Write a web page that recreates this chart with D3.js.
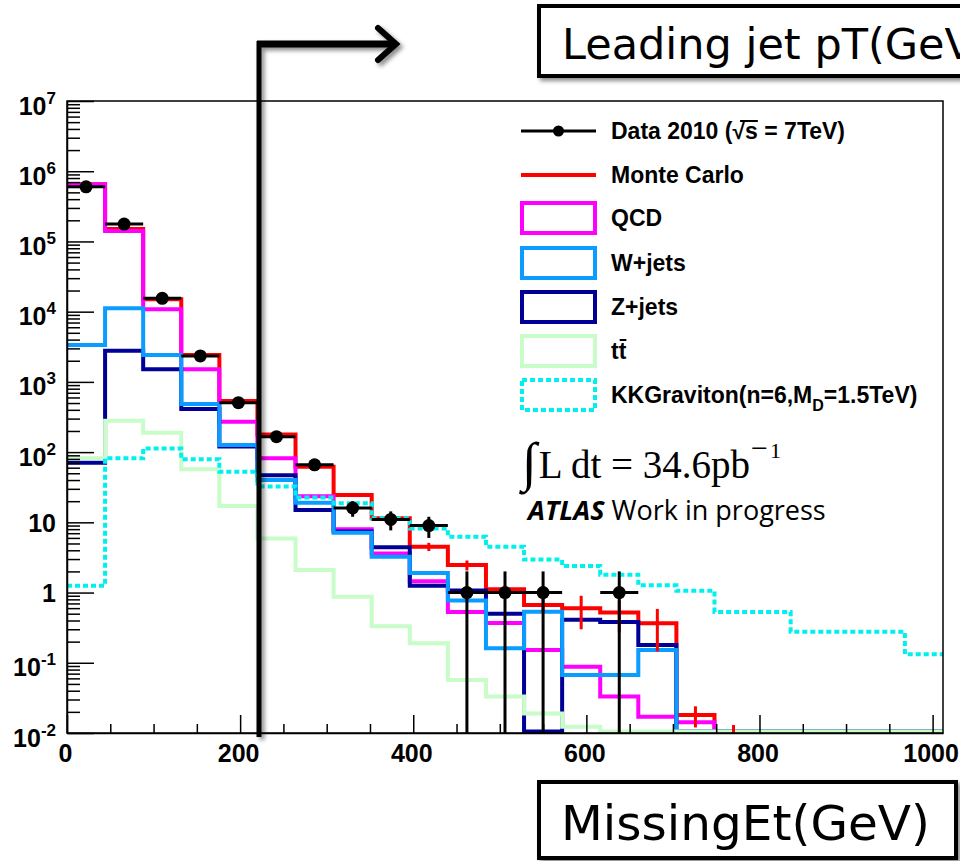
<!DOCTYPE html>
<html>
<head>
<meta charset="utf-8">
<script src="https://cdn.jsdelivr.net/npm/d3@7"></script>
<style>
  body { margin: 0; background: #fff; }
  svg { display: block; }
</style>
</head>
<body>
<svg id="chart" width="960" height="861"></svg>
<script>
// ---- binning (GeV) ----
const binWidth = 44;
const xMax = 1012;

// ---- events per bin, 23 bins of 44 GeV ----
const dataCounts = [600000, 177000, 15500, 2340, 506, 166, 66, 16, 11, 9, 1, 1, 1, 0, 1, 0, 0, 0, 0, 0, 0, 0, 0];
const mcTotal    = [655000, 150000, 15000, 2415, 535, 178, 62, 24.5, 11.4, 4.5, 2.46, 1.11, 0.665, 0.6, 0.52, 0.365, 0.018, 0.005, 0, 0, 0, 0, 0];
const mcError    = [0, 0, 0, 0, 0, 0, 0, 0, 0, 0.6, 0.4, 0.15, 0.15, 0.3, 0.25, 0.22, 0.006, 0.008, 0, 0, 0, 0, 0];
const qcd        = [650000, 141000, 10800, 1510, 271, 81.7, 23.5, 8.0, 3.6, 1.45, 0.53, 0.37, 0.152, 0.088, 0.033, 0.0171, 0.0142, 0, 0, 0, 0, 0, 0];
const wJets      = [3355, 11200, 2415, 484, 126, 40, 19, 7.1, 3.24, 1.9, 0.77, 0.161, 0.535, 0.067, 0.067, 0.152, 0, 0, 0, 0, 0, 0, 0];
const zJets      = [70.6, 2780, 1510, 411, 120, 47, 15, 7.4, 4.41, 1.25, 1.07, 0.5, 0, 0.41, 0.38, 0.179, 0, 0, 0, 0, 0, 0, 0];
const ttbar      = [81.7, 280, 189, 56.9, 17.1, 5.9, 2.1, 0.87, 0.33, 0.19, 0.057, 0.033, 0.019, 0.0123, 0, 0, 0, 0, 0, 0, 0, 0, 0];
const kkGraviton = [1.25, 82, 113, 79, 52.6, 32.5, 22.5, 18.7, 11.4, 8.2, 6.25, 4.5, 2.95, 2.39, 1.8, 1.27, 1.06, 0.53, 0.53, 0.277, 0.277, 0.277, 0.132];

// ---- axis ticks ----
const xTickValues = [0, 200, 400, 600, 800, 1000];
const xTickLabels = ["0", "200", "400", "600", "800", "1000"];
const yTickValues = [1e-2, 1e-1, 1, 10, 1e2, 1e3, 1e4, 1e5, 1e6, 1e7];
const yTickLabels = ["10^-2", "10^-1", "1", "10", "10^2", "10^3", "10^4", "10^5", "10^6", "10^7"];

// ---- legend ----
const legendLabels = ["Data 2010 (√s = 7TeV)", "Monte Carlo", "QCD", "W+jets", "Z+jets", "tt", "KKGraviton(n=6,M|D|=1.5TeV)"];

const colors = {
  data: "#000000", mc: "#ff0000", qcd: "#ff00ff", w: "#0a9cff",
  z: "#000096", tt: "#c8fcc8", kk: "#00f0f0"
};

const svg = d3.select("#chart");
const defs = svg.append("defs");

const frame = { left: 67, right: 943, top: 101, bottom: 733 };
const yMin = 1e-2;

const x = d3.scaleLinear().domain([0, xMax]).range([frame.left, frame.right]);
const y = d3.scaleLog().domain([yMin, 1e7]).range([frame.bottom, frame.top]);
// empty or underflow bins sit on the lower edge of the frame
const yc = v => v > yMin ? y(v) : frame.bottom - 1.5;

defs.append("clipPath").attr("id", "plotClip")
  .append("rect")
  .attr("x", frame.left).attr("y", frame.top)
  .attr("width", frame.right - frame.left).attr("height", frame.bottom - frame.top);

const shadow = defs.append("filter").attr("id", "shadow")
  .attr("x", "-20%").attr("y", "-20%").attr("width", "140%").attr("height", "140%");
shadow.append("feDropShadow")
  .attr("dx", 3).attr("dy", 3).attr("stdDeviation", 2)
  .attr("flood-color", "#000").attr("flood-opacity", 0.45);

// ---- histograms ----
const step = d3.line().curve(d3.curveStepAfter).x(d => x(d[0])).y(d => yc(d[1]));
function histPoints(vals) {
  const pts = vals.map((v, i) => [i * binWidth, v]);
  pts.push([vals.length * binWidth, vals[vals.length - 1]]);
  return pts;
}

const plot = svg.append("g").attr("clip-path", "url(#plotClip)");

const series = [
  { vals: mcTotal, color: colors.mc, dash: null },
  { vals: qcd, color: colors.qcd, dash: null },
  { vals: zJets, color: colors.z, dash: null },
  { vals: wJets, color: colors.w, dash: null },
  { vals: ttbar, color: colors.tt, dash: null },
  { vals: kkGraviton, color: colors.kk, dash: "5,3" }
];

plot.selectAll("path.hist").data(series).join("path")
  .attr("class", "hist")
  .attr("d", d => step(histPoints(d.vals)))
  .attr("fill", "none")
  .attr("stroke", d => d.color)
  .attr("stroke-width", 4)
  .attr("stroke-dasharray", d => d.dash);

// Monte Carlo statistical errors
const mcErrBins = mcTotal.map((v, i) => ({ i, v, e: mcError[i] })).filter(d => d.e > 0);
plot.selectAll("line.mcerr").data(mcErrBins).join("line")
  .attr("class", "mcerr")
  .attr("x1", d => x((d.i + 0.5) * binWidth)).attr("x2", d => x((d.i + 0.5) * binWidth))
  .attr("y1", d => yc(d.v + d.e)).attr("y2", d => (d.v - d.e) > yMin ? y(d.v - d.e) : frame.bottom)
  .attr("stroke", colors.mc).attr("stroke-width", 3);

// ---- data points with Poisson errors ----
const dataPts = dataCounts.map((n, i) => ({ i, n })).filter(d => d.n > 0);
const dataG = plot.append("g");
dataG.selectAll("line.xerr").data(dataPts).join("line")
  .attr("x1", d => x(d.i * binWidth)).attr("x2", d => x((d.i + 1) * binWidth))
  .attr("y1", d => y(d.n)).attr("y2", d => y(d.n))
  .attr("stroke", colors.data).attr("stroke-width", 3);
dataG.selectAll("line.yerr").data(dataPts).join("line")
  .attr("x1", d => x((d.i + 0.5) * binWidth)).attr("x2", d => x((d.i + 0.5) * binWidth))
  .attr("y1", d => yc(d.n + Math.sqrt(d.n)))
  .attr("y2", d => (d.n - Math.sqrt(d.n)) > yMin ? y(d.n - Math.sqrt(d.n)) : frame.bottom)
  .attr("stroke", colors.data).attr("stroke-width", 3);
dataG.selectAll("circle").data(dataPts).join("circle")
  .attr("cx", d => x((d.i + 0.5) * binWidth)).attr("cy", d => y(d.n))
  .attr("r", 6.5).attr("fill", colors.data);

// ---- frame ----
svg.append("rect")
  .attr("x", frame.left).attr("y", frame.top)
  .attr("width", frame.right - frame.left).attr("height", frame.bottom - frame.top)
  .attr("fill", "none").attr("stroke", "#000").attr("stroke-width", 1.5);

// ---- axes ----
const axisFont = "'Liberation Sans', Arial, sans-serif";

const xMinor = d3.range(0, xMax, 50).filter(v => v % 200 !== 0);
svg.append("g").attr("transform", `translate(0,${frame.bottom})`)
  .call(d3.axisBottom(x).tickValues(xMinor).tickSize(-9).tickSizeOuter(0).tickFormat(""))
  .call(g => g.select(".domain").remove())
  .call(g => g.selectAll("line").attr("stroke-width", 1.5));

svg.append("g").attr("transform", `translate(0,${frame.bottom})`)
  .call(d3.axisBottom(x).tickValues(xTickValues).tickSize(-18).tickSizeOuter(0).tickPadding(11)
    .tickFormat((d, i) => xTickLabels[i]))
  .call(g => g.select(".domain").attr("stroke-width", 1.5))
  .call(g => g.selectAll("line").attr("stroke-width", 1.5))
  .call(g => g.selectAll("text")
    .attr("font-family", axisFont).attr("font-size", 25).attr("font-weight", "bold")
    .attr("fill", "#000").attr("dx", -2));

const yMinor = [];
for (let k = -2; k < 7; k++) for (let m = 2; m <= 9; m++) yMinor.push(m * Math.pow(10, k));
svg.append("g").attr("transform", `translate(${frame.left},0)`)
  .call(d3.axisLeft(y).tickValues(yMinor).tickSize(-13).tickSizeOuter(0).tickFormat(""))
  .call(g => g.select(".domain").remove())
  .call(g => g.selectAll("line").attr("stroke-width", 1.5));

const yAxisG = svg.append("g").attr("transform", `translate(${frame.left},0)`)
  .call(d3.axisLeft(y).tickValues(yTickValues).tickSize(-27).tickSizeOuter(0).tickFormat(""))
  .call(g => g.select(".domain").attr("stroke-width", 1.5))
  .call(g => g.selectAll("line").attr("stroke-width", 1.5));

yAxisG.selectAll(".tick").each(function (d, i) {
  const parts = yTickLabels[i].split("^");
  const t = d3.select(this).select("text")
    .attr("x", -11).attr("dy", null)
    .attr("text-anchor", "end")
    .attr("font-family", axisFont).attr("font-size", 25).attr("font-weight", "bold")
    .attr("fill", "#000");
  t.text(null);
  if (parts.length === 1) {
    t.attr("y", 9).text(parts[0]);
  } else {
    t.attr("y", 13);
    t.append("tspan").text(parts[0]);
    t.append("tspan").attr("font-size", 17).attr("dy", -11).text(parts[1]);
  }
});

// ---- legend ----
const legFont = "'Liberation Sans', Arial, sans-serif";
const leg = svg.append("g");
const legX0 = 521, legX1 = 596, legTextX = 611;
const rowY = [131, 175, 218, 263, 307, 351, 395];
const boxColors = [null, null, colors.qcd, colors.w, colors.z, colors.tt, colors.kk];

// data entry
leg.append("line").attr("x1", legX0).attr("x2", legX1).attr("y1", rowY[0]).attr("y2", rowY[0])
  .attr("stroke", "#000").attr("stroke-width", 3);
leg.append("circle").attr("cx", (legX0 + legX1) / 2).attr("cy", rowY[0]).attr("r", 5.5).attr("fill", "#000");
// Monte Carlo entry
leg.append("line").attr("x1", legX0).attr("x2", legX1).attr("y1", rowY[1]).attr("y2", rowY[1])
  .attr("stroke", colors.mc).attr("stroke-width", 4);
// box entries
for (let r = 2; r < 7; r++) {
  leg.append("rect").attr("x", legX0 + 1).attr("y", rowY[r] - 15)
    .attr("width", legX1 - legX0 - 2).attr("height", 30)
    .attr("fill", "none").attr("stroke", boxColors[r]).attr("stroke-width", 4)
    .attr("stroke-dasharray", r === 6 ? "5,3" : null);
}

legendLabels.forEach((lab, r) => {
  const t = leg.append("text").attr("x", legTextX).attr("y", rowY[r] + 8)
    .attr("font-family", legFont).attr("font-size", 23).attr("font-weight", "bold").attr("fill", "#000");
  if (lab.includes("|")) {
    const [a, sub, b] = lab.split("|");
    t.append("tspan").text(a);
    t.append("tspan").attr("font-size", 16).attr("dy", 8).text(sub);
    t.append("tspan").attr("dy", -8).text(b);
  } else {
    t.text(lab);
  }
  // overbars: on "s" under the root sign, and on the second "t" of the top-pair label
  let barIdx = -1;
  if (lab.includes("√")) barIdx = lab.indexOf("√") + 1;
  if (r === 5) barIdx = 1;
  if (barIdx >= 0) {
    const ext = t.node().getExtentOfChar(barIdx);
    const rootExt = r === 0 ? t.node().getExtentOfChar(barIdx - 1) : null;
    const xa = rootExt ? rootExt.x + rootExt.width * 0.6 : ext.x + 1;
    leg.append("line")
      .attr("x1", xa).attr("x2", ext.x + ext.width)
      .attr("y1", rowY[r] + 8 - (r === 0 ? 18 : 19)).attr("y2", rowY[r] + 8 - (r === 0 ? 18 : 19))
      .attr("stroke", "#000").attr("stroke-width", 2);
  }
});

// ---- luminosity and experiment label ----
const lt = svg.append("text").attr("x", 522).attr("y", 478)
  .attr("font-family", "'Liberation Serif', 'Times New Roman', serif").attr("font-size", 39);
lt.append("tspan").attr("font-size", 54).attr("dy", 2).text("∫");
lt.append("tspan").attr("dy", -2).attr("dx", 2).text("L dt = 34.6pb");
lt.append("tspan").attr("font-size", 30).attr("dy", -20).attr("dx", 1).text("−");
lt.append("tspan").attr("font-size", 22).attr("dx", 2).text("1");

const at = svg.append("text").attr("x", 528).attr("y", 520)
  .attr("font-family", "'Open Sans', Lato, sans-serif").attr("font-size", 27);
at.append("tspan").attr("font-weight", "bold").attr("font-style", "italic").text("ATLAS");
at.append("tspan").text(" Work in progress");

// ---- annotations: bent arrow and axis-name boxes ----
const ann = svg.append("g").attr("filter", "url(#shadow)");
ann.append("line").attr("x1", 259).attr("x2", 259).attr("y1", 737).attr("y2", 41)
  .attr("stroke", "#000").attr("stroke-width", 5);
ann.append("line").attr("x1", 257).attr("x2", 394).attr("y1", 44).attr("y2", 44)
  .attr("stroke", "#000").attr("stroke-width", 7);
ann.append("polyline").attr("points", "378,28 396,44 378,60")
  .attr("fill", "none").attr("stroke", "#000").attr("stroke-width", 6)
  .attr("stroke-linecap", "round").attr("stroke-linejoin", "miter");

const boxFont = "'DejaVu Sans', Verdana, sans-serif";
const topBox = svg.append("g").attr("filter", "url(#shadow)");
topBox.append("rect").attr("x", 539).attr("y", 6).attr("width", 440).attr("height", 70)
  .attr("fill", "#fff").attr("stroke", "#000").attr("stroke-width", 4);
svg.append("text").attr("x", 562).attr("y", 59)
  .attr("font-family", boxFont).attr("font-size", 43).attr("fill", "#000")
  .text("Leading jet pT(GeV)");

const botBox = svg.append("g").attr("filter", "url(#shadow)");
botBox.append("rect").attr("x", 539).attr("y", 782).attr("width", 417).attr("height", 76)
  .attr("fill", "#fff").attr("stroke", "#000").attr("stroke-width", 4);
svg.append("text").attr("x", 561).attr("y", 840)
  .attr("font-family", boxFont).attr("font-size", 48.5).attr("fill", "#000")
  .text("MissingEt(GeV)");
</script>
</body>
</html>
